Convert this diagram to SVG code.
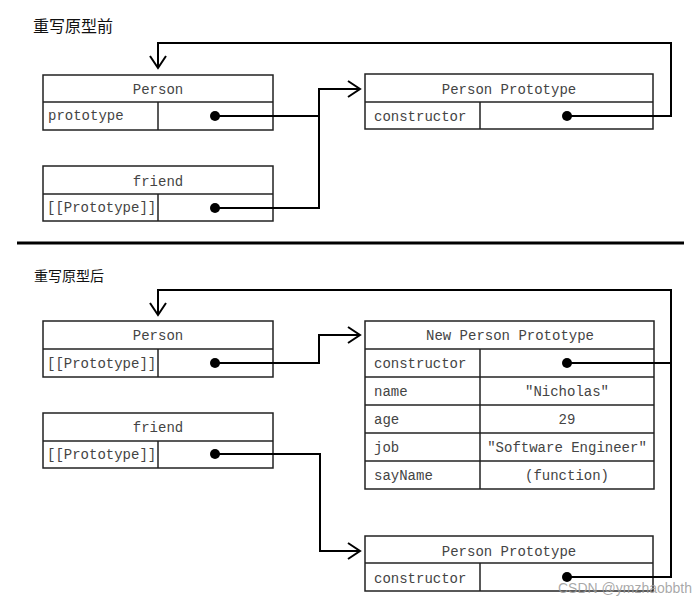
<svg xmlns="http://www.w3.org/2000/svg" width="697" height="604" viewBox="0 0 697 604">
<defs>
<style>
.box{fill:#fff;stroke:#222;stroke-width:1.5}
.ln{stroke:#222;stroke-width:1.5;fill:none}
.t{font-family:"Liberation Mono","Courier New",monospace;font-size:14px;fill:#444}
.c{text-anchor:middle}
.title{font-family:"Noto Sans CJK SC","Noto Sans",sans-serif;fill:#111}
.con{fill:none;stroke:#000;stroke-width:2}
.dot{fill:#000}
</style>
<marker id="arr" viewBox="0 0 16 20" markerWidth="16" markerHeight="20" refX="14" refY="10" orient="auto" markerUnits="userSpaceOnUse">
<path d="M2,2 L14,10 L2,18" fill="none" stroke="#000" stroke-width="2"/>
</marker>
</defs>
<rect width="697" height="604" fill="#fff"/>

<text class="title" x="33" y="32" font-size="16">重写原型前</text>
<text class="title" x="34" y="281" font-size="14">重写原型后</text>
<line x1="17" y1="243" x2="684" y2="243" stroke="#000" stroke-width="3"/>

<g id="person1">
<rect class="box" x="43" y="75" width="230" height="55"/>
<line class="ln" x1="43" y1="102" x2="273" y2="102"/>
<line class="ln" x1="158" y1="102" x2="158" y2="130"/>
<text class="t c" x="158" y="94">Person</text>
<text class="t" x="48" y="120">prototype</text>
</g>

<g id="friend1">
<rect class="box" x="43" y="166" width="230" height="55"/>
<line class="ln" x1="43" y1="194" x2="273" y2="194"/>
<line class="ln" x1="158" y1="194" x2="158" y2="221"/>
<text class="t c" x="158" y="186">friend</text>
<text class="t" x="47" y="212">[[Prototype]]</text>
</g>

<g id="proto1">
<rect class="box" x="365" y="74" width="288" height="55"/>
<line class="ln" x1="365" y1="102" x2="653" y2="102"/>
<line class="ln" x1="480" y1="102" x2="480" y2="129"/>
<text class="t c" x="509" y="94">Person Prototype</text>
<text class="t" x="374" y="121">constructor</text>
</g>

<g id="person2">
<rect class="box" x="43" y="321" width="230" height="56"/>
<line class="ln" x1="43" y1="349" x2="273" y2="349"/>
<line class="ln" x1="158" y1="349" x2="158" y2="377"/>
<text class="t c" x="158" y="340">Person</text>
<text class="t" x="47" y="368">[[Prototype]]</text>
</g>

<g id="friend2">
<rect class="box" x="43" y="413" width="230" height="55"/>
<line class="ln" x1="43" y1="441" x2="273" y2="441"/>
<line class="ln" x1="158" y1="441" x2="158" y2="468"/>
<text class="t c" x="158" y="432">friend</text>
<text class="t" x="47" y="459">[[Prototype]]</text>
</g>

<g id="newproto">
<rect class="box" x="365" y="321" width="289" height="168"/>
<line class="ln" x1="365" y1="349" x2="654" y2="349"/>
<line class="ln" x1="365" y1="377" x2="654" y2="377"/>
<line class="ln" x1="365" y1="405" x2="654" y2="405"/>
<line class="ln" x1="365" y1="433" x2="654" y2="433"/>
<line class="ln" x1="365" y1="461" x2="654" y2="461"/>
<line class="ln" x1="480" y1="349" x2="480" y2="489"/>
<text class="t c" x="510" y="340">New Person Prototype</text>
<text class="t" x="374" y="368">constructor</text>
<text class="t" x="374" y="396">name</text>
<text class="t c" x="567" y="396">"Nicholas"</text>
<text class="t" x="374" y="424">age</text>
<text class="t c" x="567" y="424">29</text>
<text class="t" x="374" y="452">job</text>
<text class="t c" x="567" y="452">"Software Engineer"</text>
<text class="t" x="374" y="480">sayName</text>
<text class="t c" x="567" y="480">(function)</text>
</g>

<g id="proto2">
<rect class="box" x="365" y="536" width="288" height="55"/>
<line class="ln" x1="365" y1="563" x2="653" y2="563"/>
<line class="ln" x1="480" y1="563" x2="480" y2="591"/>
<text class="t c" x="509" y="556">Person Prototype</text>
<text class="t" x="374" y="583">constructor</text>
</g>

<g id="connectors">
<path class="con" d="M215,116 H319 V89 H360" marker-end="url(#arr)"/>
<path class="con" d="M215,208 H319 V116"/>
<path class="con" d="M567,116 H671 V43 H158 V68" marker-end="url(#arr)"/>
<path class="con" d="M215,363 H319 V335 H360" marker-end="url(#arr)"/>
<path class="con" d="M215,454 H320 V551 H360" marker-end="url(#arr)"/>
<path class="con" d="M567,363 H671 V290 H158 V315" marker-end="url(#arr)"/>
<path class="con" d="M567,577 H671 V363"/>
<circle class="dot" cx="215" cy="116" r="5"/>
<circle class="dot" cx="215" cy="208" r="5"/>
<circle class="dot" cx="567" cy="116" r="5"/>
<circle class="dot" cx="215" cy="363" r="5"/>
<circle class="dot" cx="215" cy="454" r="5"/>
<circle class="dot" cx="567" cy="363" r="5"/>
<circle class="dot" cx="567" cy="577" r="5"/>
</g>

<text x="558" y="593" font-family="'Liberation Sans',Arial,sans-serif" font-size="14" fill="#999" fill-opacity="0.85">CSDN @ymzhaobbth</text>
</svg>
